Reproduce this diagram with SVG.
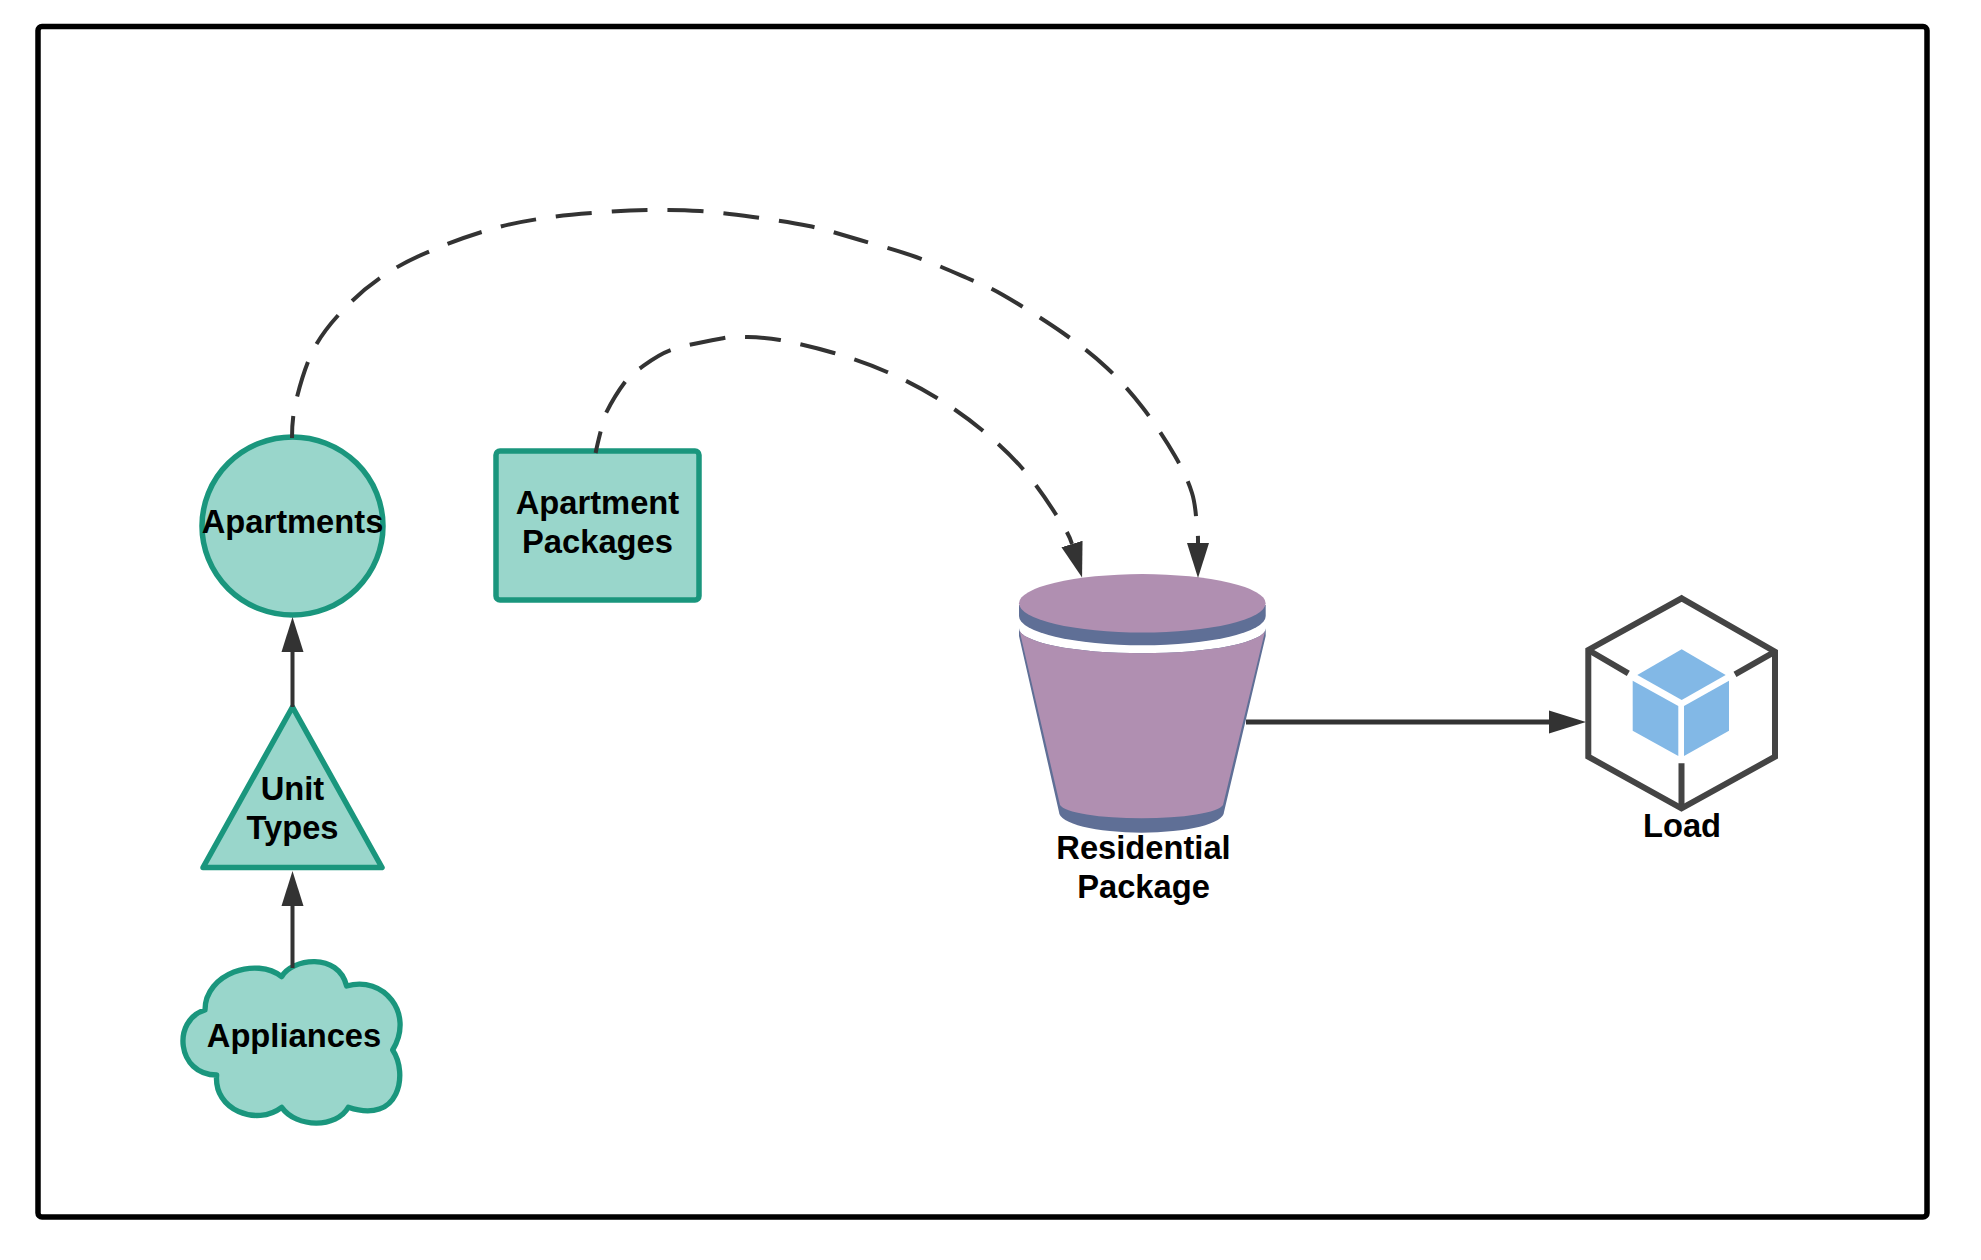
<svg xmlns="http://www.w3.org/2000/svg" width="1981" height="1260" viewBox="0 0 1981 1260">
<style>
.shape{fill:#99d6cb;stroke:#1a967d;stroke-width:5.500;stroke-linejoin:round}
.label{font-family:"Liberation Sans",Arial,sans-serif;font-weight:700;font-size:32.700px;fill:#000;text-anchor:middle}
.conn{fill:none;stroke:#333;stroke-width:4}
.dash{stroke-dasharray:36 20;stroke-dashoffset:14}
.purple{fill:#b08fb1}
.slate{fill:#5f6f96}
.cubeline{fill:none;stroke:#444;stroke-width:6;stroke-linejoin:miter}
.cubeblue{fill:#82b8e6}
</style>
<defs>
<marker id="head" markerUnits="userSpaceOnUse" markerWidth="40" markerHeight="30" refX="0" refY="15" orient="auto"><path d="M0,4 L35,15 L0,26Z" fill="#333"/></marker>
<marker id="headL" markerUnits="userSpaceOnUse" markerWidth="44" markerHeight="30" refX="0" refY="15" orient="auto"><path d="M0,3.500 L37,15 L0,26.500Z" fill="#333"/></marker>
</defs>
<rect width="1981" height="1260" fill="#fff"/>
<rect id="frame" x="38" y="26.600" width="1889" height="1190.500" rx="4" fill="#fff" stroke="#000" stroke-width="5.500"/>
<g id="apartments"><ellipse class="shape" cx="292.500" cy="526" rx="90.500" ry="89"/><text class="label" x="292.500" y="533">Apartments</text></g>
<g id="apartment-packages"><rect class="shape" x="496" y="451" width="203" height="149" rx="4"/><text class="label" x="597.500" y="514">Apartment</text><text class="label" x="597.500" y="553">Packages</text></g>
<g id="unit-types"><path class="shape" d="M292.500,707 L382,867.500 H203Z"/><text class="label" x="292.500" y="799.500">Unit</text><text class="label" x="292.500" y="838.500">Types</text></g>
<g id="appliances"><path class="shape" style="stroke-width:16" transform="translate(150 680) scale(.33333)" d="M395,890 C425,835 565,815 590,918 C700,885 795,1000 728,1110 C775,1180 750,1335 595,1282 C560,1345 440,1345 395,1282 C320,1340 190,1290 200,1185 C80,1185 65,1020 165,990 C165,880 320,830 395,890Z"/><text class="label" x="294" y="1047">Appliances</text></g>
<g id="residential-package">
<path class="slate" d="M1019,628.300 A123.300,25 0 0 0 1265.700,628.300 V636 L1224,812 A82.500,20.700 0 0 1 1059,812 L1019,636Z"/>
<path class="purple" d="M1019,628.300 A123.300,25 0 0 0 1265.700,628.300 L1223,805 A82,15 0 0 1 1060,805Z"/>
<path class="slate" d="M1019,605 V616 A123.300,29.200 0 0 0 1265.700,616 V605Z"/>
<ellipse class="purple" cx="1142.300" cy="603.300" rx="123.300" ry="29.200"/>
<text class="label" x="1143.500" y="858.500">Residential</text><text class="label" x="1143.500" y="898">Package</text>
</g>
<g id="load">
<path class="cubeline" d="M1681.700,598.300 L1775,651.700 V756.700 L1681.500,808.300 L1588.300,756.700 V650Z"/>
<path class="cubeline" d="M1588.300,650 L1628.300,673.300 M1775,651.700 L1735,674.300 M1681.500,808.300 V763.300"/>
<path class="cubeblue" d="M1681.700,649.300 L1725.700,675 L1681.700,700 L1637.300,675Z"/>
<path class="cubeblue" d="M1632.700,680.700 L1678.300,706 V756 L1632.700,730.700Z"/>
<path class="cubeblue" d="M1684,706 L1729,680.700 V730.700 L1684,756Z"/>
<text class="label" x="1682" y="836.500">Load</text>
</g>
<g id="connectors">
<path class="conn" marker-end="url(#head)" d="M292.500,968 V906"/>
<path class="conn" marker-end="url(#head)" d="M292.500,707 V652"/>
<path class="conn" style="stroke-width:5" marker-end="url(#headL)" d="M1246,722 H1549"/>
<path class="conn dash" marker-end="url(#head)" d="M292,438 C292,425 293,412.500 297,397 S307,360.800 316,345 S338,314.700 351,302 S378.300,278.500 394,269 S427.500,252 445,245 S481.200,231.700 499,227 S534.200,219.500 552,217 S589.700,213.200 606,212 S634.300,210.200 650,210 S682.800,209.800 700,211 S734.800,214.500 753,217 S791.200,222.200 809,226 S842.200,234.800 860,240 S898.200,250.700 916,257 S952.500,271.700 967,278 S987,285.800 1003,295 S1045.700,320.800 1063,333 S1093.700,355.500 1107,368 S1131.700,393.300 1143,408 S1166.800,441.800 1175,456 S1188.300,481.200 1192,493 S1196,518.300 1197,527 S1198,535 1198,543"/>
<path class="conn dash" marker-end="url(#head)" d="M595.600,453 C597,446 598.800,438.700 600.500,432 S601.900,421.300 606,413 S619.500,389.300 625,382 S631.300,374.300 639,369 S656.800,355.200 671,350 S711.800,340.200 724,338 S734.700,336.700 744,337 S765,337.300 780,340 S816.200,347.700 834,353 S869.800,364.500 887,372 S921.200,388.300 937,398 S967.800,418.300 982,430 S1009.800,454.200 1022,468 S1046.700,500 1055,513 S1069,534 1072,544"/>
</g>
</svg>
